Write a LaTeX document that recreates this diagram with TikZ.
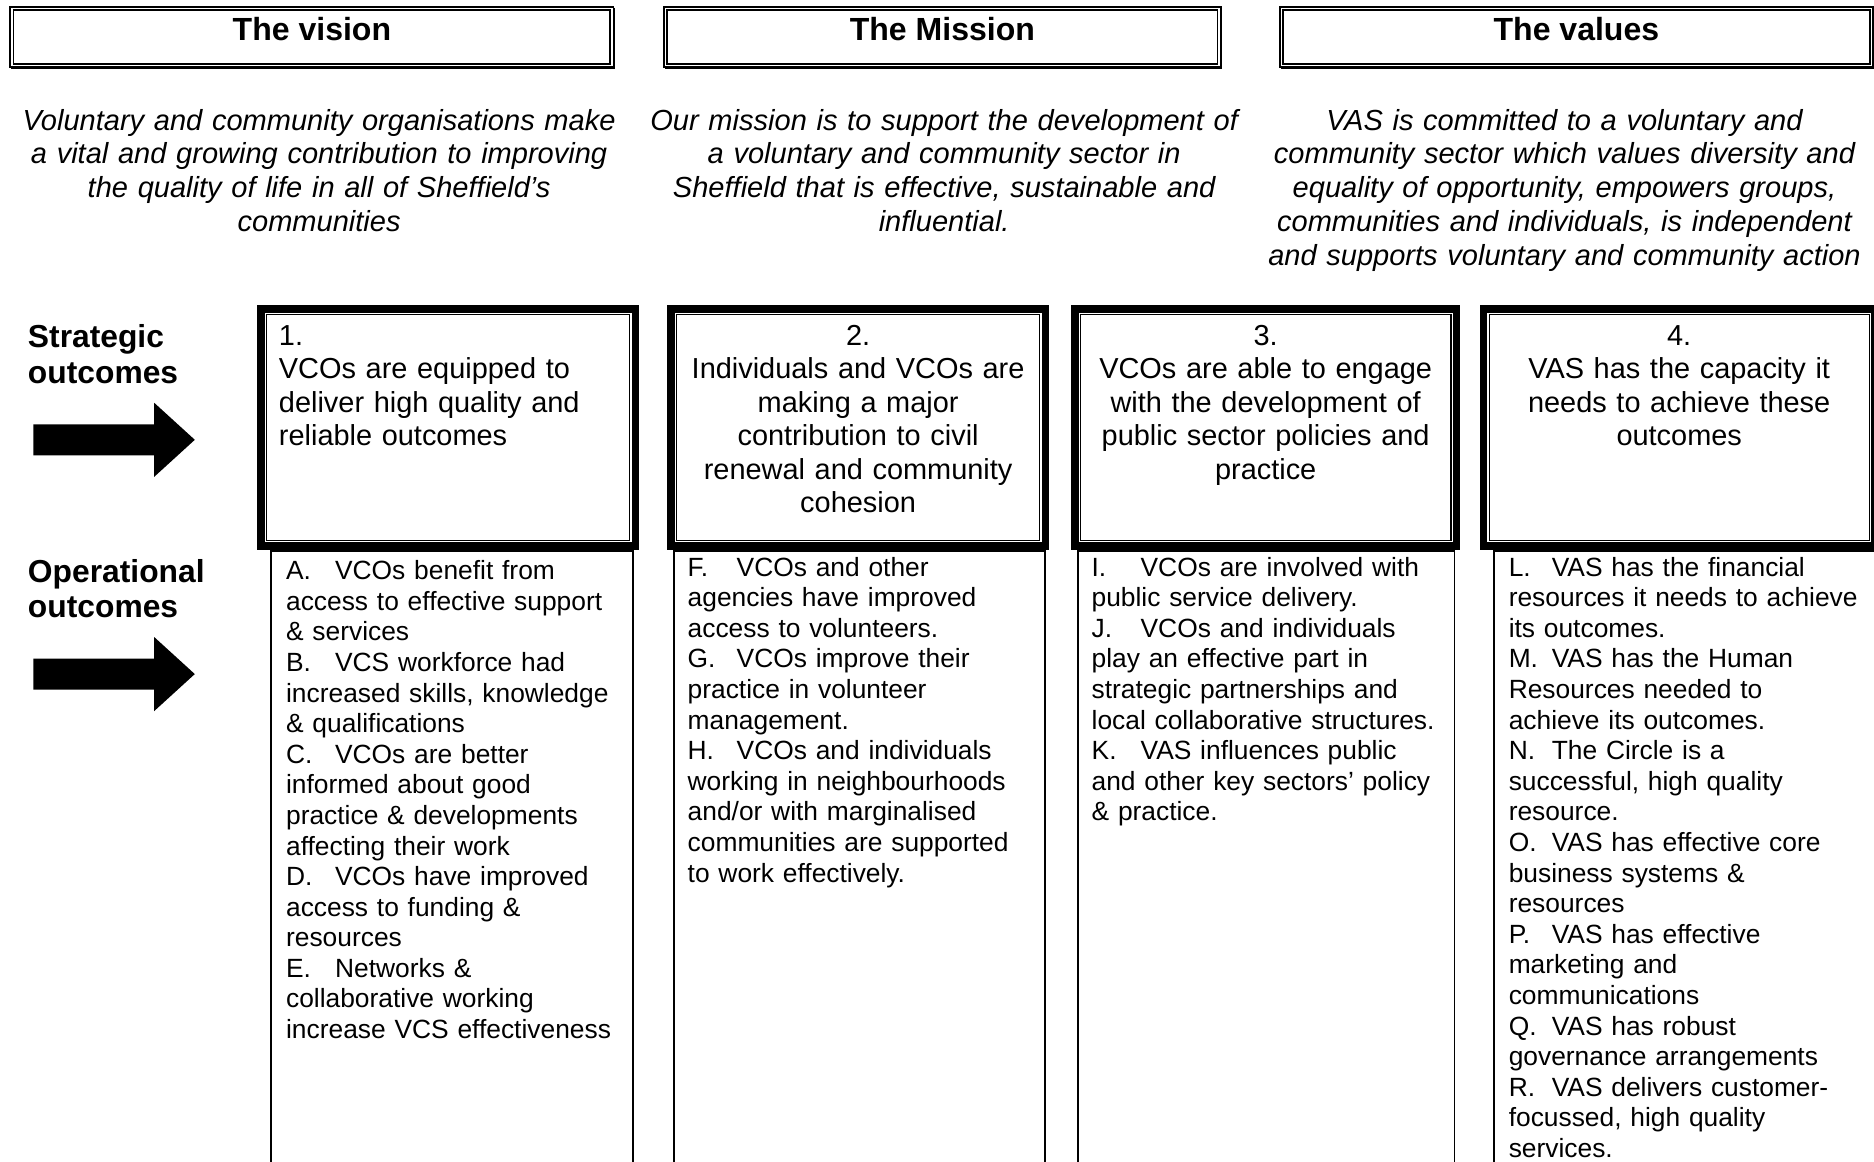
\documentclass[tikz,border=0pt]{standalone}
\usepackage{fontspec}
\setmainfont{Liberation Sans}
\newcommand{\olab}[2][20.5pt]{\makebox[#1][l]{#2}}

\begin{document}
\begin{tikzpicture}[x=0.5pt,y=-0.5pt,
    headbox/.style={draw,double,line width=0.75pt,double distance=0.6pt,inner sep=0pt,outer sep=0pt,
      anchor=north west,text height=13.5pt,text depth=10.5pt,font=\fontsize{13.4}{15}\selectfont\bfseries},
    headshade/.style={line width=1pt},
    stratbox/.style={draw,line width=0.5pt,inner sep=0pt,outer sep=0pt,anchor=north west,minimum height=94.5pt},
    stratframe/.style={line width=3.25pt},
    opbox/.style={draw,line width=0.8pt,inner sep=0pt,outer sep=0pt,anchor=north west,minimum height=269.5pt},
    intro/.style={anchor=base,align=center,text width=260pt,inner sep=0pt,font=\fontsize{12.15}{14.1}\selectfont\itshape},
    side/.style={anchor=base west,align=left,text width=90pt,inner sep=0pt,font=\fontsize{13.3}{15}\selectfont\bfseries},
    strattext/.style={anchor=base,align=center,text width=170pt,inner sep=0pt,font=\fontsize{12.1}{14}\selectfont},
    optext/.style={anchor=base west,align=left,text width=170pt,inner sep=0pt,font=\fontsize{11.03}{12.8}\selectfont}]

    \useasboundingbox (0,0) rectangle (1568,972);
    \clip (0,0) rectangle (1568,972);

    \node[headbox,minimum width=251pt]   (vision)  at (10,7)   {The vision};
    \node[headbox,minimum width=231.5pt] (mission) at (557,7)  {The Mission};
    \node[headbox,minimum width=247pt]   (values)  at (1072,7) {The values};
    \foreach \b in {vision,mission,values}
      \draw[headshade] ([shift={(0.8pt,0.3pt)}]\b.north east) -- ([shift={(0.8pt,-0.8pt)}]\b.south east)
        -- ([shift={(-0.3pt,-0.8pt)}]\b.south west);

    \node[intro] (visiontxt) at (267,109) {Voluntary and community organisations make\\
      a vital and growing contribution to improving\\ the quality of life in all of Sheffield’s\\ communities};
    \node[intro] (missiontxt) at (790,109) {Our mission is to support the development of\\
      a voluntary and community sector in\\ Sheffield that is effective, sustainable and\\ influential.};
    \node[intro] (valuestxt) at (1309,109) {VAS is committed to a voluntary and\\
      community sector which values diversity and\\ equality of opportunity, empowers groups,\\
      communities and individuals, is independent\\ and supports voluntary and community action};

    \node[side] (strat) at (23,291) {Strategic\\outcomes};
    \node[side] (oper)  at (23,487) {Operational\\outcomes};

    \foreach \y in {368,564}
      \fill (28,\y-13) -- (129,\y-13) -- (129,\y-31) -- (163,\y) -- (129,\y+31) -- (129,\y+13) -- (28,\y+13) -- cycle;

    \node[opbox,minimum width=151.5pt] (o1) at (227,461)  {};
    \node[opbox,minimum width=155pt]   (o2) at (564,461)  {};
    \node[opbox,minimum width=157.5pt] (o3) at (902,461)  {};
    \node[opbox,minimum width=170pt]   (o4) at (1250,461) {};

    \node[stratbox,minimum width=152pt] (s1) at (223,263)  {};
    \node[stratbox,minimum width=152pt] (s2) at (566,263)  {};
    \node[stratbox,minimum width=155pt] (s3) at (904,263)  {};
    \node[stratbox,minimum width=159pt] (s4) at (1246,263) {};
    \foreach \b in {s1,s2,s3,s4}
      \draw[stratframe] ([shift={(-2.375pt,2.375pt)}]\b.north west) rectangle ([shift={(2.375pt,-2.375pt)}]\b.south east);

    \node[strattext,anchor=base west,align=left] (s1txt) at (233,289) {1.\\VCOs are equipped to\\deliver high quality and\\reliable outcomes};
    \node[strattext] (s2txt) at (718,289) {2.\\Individuals and VCOs are\\making a major\\contribution to civil\\renewal and community\\cohesion};
    \node[strattext] (s3txt) at (1059,289) {3.\\VCOs are able to engage\\with the development of\\public sector policies and\\practice};
    \node[strattext] (s4txt) at (1405,289) {4.\\VAS has the capacity it\\needs to achieve these\\outcomes};

    \node[optext] (o1txt) at (239,485) {\olab{A.}VCOs benefit from\\access to effective support\\\& services\\
      \olab{B.}VCS workforce had\\increased skills, knowledge\\\& qualifications\\
      \olab{C.}VCOs are better\\informed about good\\practice \& developments\\affecting their work\\
      \olab{D.}VCOs have improved\\access to funding \&\\resources\\
      \olab{E.}Networks \&\\collaborative working\\increase VCS effectiveness};
    \node[optext] (o2txt) at (575,482) {\olab{F.}VCOs and other\\agencies have improved\\access to volunteers.\\
      \olab{G.}VCOs improve their\\practice in volunteer\\management.\\
      \olab{H.}VCOs and individuals\\working in neighbourhoods\\and/or with marginalised\\communities are supported\\to work effectively.};
    \node[optext] (o3txt) at (913,482) {\olab{I.}VCOs are involved with\\public service delivery.\\
      \olab{J.}VCOs and individuals\\play an effective part in\\strategic partnerships and\\local collaborative structures.\\
      \olab{K.}VAS influences public\\and other key sectors’ policy\\\& practice.};
    \node[optext] (o4txt) at (1262,482) {\olab[18pt]{L.}VAS has the financial\\resources it needs to achieve\\its outcomes.\\
      \olab[18pt]{M.}VAS has the Human\\Resources needed to\\achieve its outcomes.\\
      \olab[18pt]{N.}The Circle is a\\successful, high quality\\resource.\\
      \olab[18pt]{O.}VAS has effective core\\business systems \&\\resources\\
      \olab[18pt]{P.}VAS has effective\\marketing and\\communications\\
      \olab[18pt]{Q.}VAS has robust\\governance arrangements\\
      \olab[18pt]{R.}VAS delivers customer-\\focussed, high quality\\services.};
  \end{tikzpicture}
\end{document}
